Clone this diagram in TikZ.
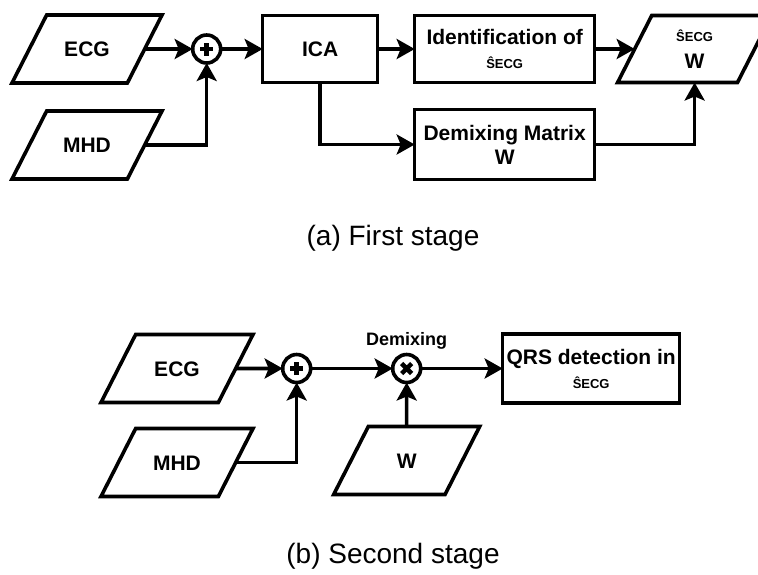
\documentclass[tikz,border=0pt]{standalone}
\usepackage{fontspec}
\setmainfont{Liberation Sans}
\usetikzlibrary{positioning, arrows.meta, shapes.geometric}

\newcommand{\boxfont}{\bfseries\fontsize{21}{24}\selectfont}
\newcommand{\capfont}{\fontsize{28}{32}\selectfont}
\newcommand{\shatecg}{{\fontsize{13}{15}\selectfont Ŝ{}ECG}}

\begin{document}
\begin{tikzpicture}[
  x=1pt, y=-1pt,
  line width=3.6pt,
  % parallelogram: height comes from text height/depth + inner ysep
  data/.style={trapezium, trapezium left angle=63, trapezium right angle=117,
               trapezium stretches body, draw, inner xsep=0pt, inner ysep=26.5pt,
               outer sep=0pt, text height=15pt, text depth=0pt,
               minimum width=150pt, font=\boxfont, align=center},
  blk/.style={draw, rectangle, inner sep=0pt, outer sep=0pt,
              font=\boxfont, align=center},
  sumop/.style={circle, draw, minimum size=28pt, inner sep=0pt, outer sep=0pt,
                path picture={\draw[line width=4.5pt]
                  (path picture bounding box.center) ++(-6.5pt,0pt) -- ++(13pt,0pt)
                  (path picture bounding box.center) ++(0pt,-6.5pt) -- ++(0pt,13pt);}},
  mulop/.style={circle, draw, minimum size=28pt, inner sep=0pt, outer sep=0pt,
                path picture={\draw[line width=4.5pt]
                  (path picture bounding box.center) ++(-5pt,-5pt) -- ++(10pt,10pt)
                  (path picture bounding box.center) ++(-5pt,5pt) -- ++(10pt,-10pt);}},
  arr/.style={-{Stealth[length=18pt, width=20pt, inset=4pt]}},
  lab/.style={font=\bfseries\fontsize{18}{20}\selectfont},
  caption/.style={font=\capfont}
]
\useasboundingbox (0,0) rectangle (758,574);

% first stage
\node[data] (ecgA) at (87,49) {ECG};
\node[data, below=28pt of ecgA] (mhdA) {MHD};
\node[sumop, right=48pt of ecgA] (plusA) {};
\node[blk, right=42pt of plusA, minimum width=115pt, minimum height=67pt] (ica) {ICA};
\node[blk, right=37pt of ica, minimum width=180pt, minimum height=67pt] (ident)
  {Identification of\\ \shatecg};
\node[blk, below=27pt of ident, minimum width=180pt, minimum height=70pt] (dmx)
  {Demixing Matrix\\ W};
\node[data, right=40pt of ident, minimum width=154pt, inner ysep=14pt,
      text height=39pt, text depth=0pt] (outA)
  {\shatecg\\[3pt] W};
\draw[arr] (ecgA) -- (plusA);
\draw[arr] (mhdA) -| (plusA);
\draw[arr] (plusA) -- (ica);
\draw[arr] (ica) -- (ident);
\draw[arr] (ident) -- (outA);
\draw[arr] (ica) |- (dmx);
\draw[arr] (dmx) -| (outA);
\node[caption] (capA) at (393,238) {(a) First stage};

% second stage
\node[data, minimum width=152pt] (ecgB) at (177,368.5) {ECG};
\node[data, below=26pt of ecgB, minimum width=152pt] (mhdB) {MHD};
\node[sumop, right=47pt of ecgB] (plusB) {};
\node[mulop, right=82pt of plusB] (timesB) {};
\node[lab, above=0pt of timesB] (dmxlab) {Demixing};
\node[blk, right=82pt of timesB, minimum width=177pt, minimum height=69pt] (qrs)
  {QRS detection in\\ \shatecg};
\node[data, below=44pt of timesB, minimum width=146pt] (wB) {W};
\draw[arr] (ecgB) -- (plusB);
\draw[arr] (mhdB) -| (plusB);
\draw[arr] (plusB) -- (timesB);
\draw[arr] (wB) -- (timesB);
\draw[arr] (timesB) -- (qrs);
\node[caption] (capB) at (393,556) {(b) Second stage};
\end{tikzpicture}
\end{document}
